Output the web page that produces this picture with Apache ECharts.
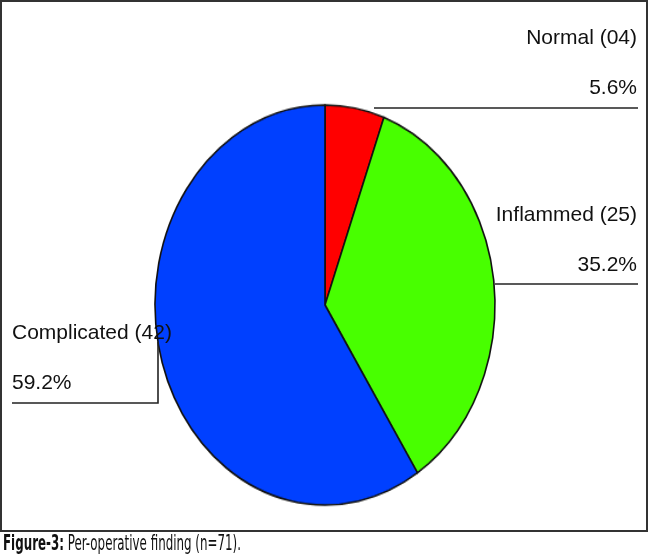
<!DOCTYPE html>
<html>
<head>
<meta charset="utf-8">
<script src="https://cdn.jsdelivr.net/npm/echarts@6/dist/echarts.min.js"></script>
<style>
html,body{margin:0;padding:0;background:#fff;}
#wrap{position:relative;width:650px;height:559px;}
#pie,#main{position:absolute;left:0;top:0;width:650px;height:559px;}
#pie{transform:scaleY(1.1765);transform-origin:325px 305px;}
</style>
</head>
<body>
<div id="wrap"><div id="pie"></div><div id="main"></div></div>
<script>
const categories = ['Normal', 'Inflammed', 'Complicated'];
const counts = [4, 25, 42];
const colors = ['#ff0000', '#48ff00', '#0040ff'];
const captionBold = 'Figure-3:';
const captionText = ' Per-operative finding (n=71).';

const data = categories.map((c, i) => ({ name: c, value: counts[i] }));
const CX = 325, CY = 305, R = 170;
const FONT = "'Liberation Sans', Arial, sans-serif";

const pie = echarts.init(document.getElementById('pie'), null, { renderer: 'canvas' });
pie.setOption({
  animation: false,
  series: [{
    type: 'pie',
    center: [CX, CY],
    radius: R,
    startAngle: 90,
    clockwise: true,
    label: { show: false },
    labelLine: { show: false },
    data: data.map((d, i) => ({ ...d, itemStyle: { color: colors[i] } })),
    itemStyle: { borderColor: '#111', borderWidth: 1.6 },
    emphasis: { disabled: true }
  }]
});

// label placement per category (position, alignment, leader path)
const labelSpots = [
  { x: 637, y: 13, align: 'right', line: [[374, 108], [638, 108]] },
  { x: 637, y: 190, align: 'right', line: [[495, 284], [638, 284]] },
  { x: 12, y: 308, align: 'left', line: [[158, 342], [158, 403], [12, 403]] }
];

const main = echarts.init(document.getElementById('main'), null, { renderer: 'canvas' });
main.setOption({
  animation: false,
  graphic: [
    { type: 'rect', shape: { x: 1, y: 1, width: 646, height: 530 },
      style: { fill: 'none', stroke: '#333', lineWidth: 2 }, silent: true },
    { type: 'text', left: 3, top: 533, scaleX: 0.6, originX: 0,
      style: {
        text: '{b|' + captionBold + '}{r|' + captionText + '}',
        rich: {
          b: { fontFamily: "'Liberation Sans Narrow','DejaVu Sans Condensed',sans-serif", fontWeight: 'bold', fontSize: 22, fill: '#111' },
          r: { fontFamily: "'Liberation Sans Narrow','DejaVu Sans Condensed',sans-serif", fontSize: 22, fill: '#111' }
        }
      } }
  ],
  series: [{
    type: 'pie',
    center: [CX, CY],
    radius: R,
    startAngle: 90,
    clockwise: true,
    silent: true,
    percentPrecision: 1,
    itemStyle: { color: 'rgba(0,0,0,0)' },
    data: data,
    label: {
      show: true,
      overflow: 'none',
      formatter: p => '{n|' + p.name + ' (' + String(p.value).padStart(2, '0') + ')}\n{n|' + p.percent.toFixed(1) + '%}',
      rich: { n: { fontFamily: FONT, fontSize: 21, lineHeight: 50, color: '#111' } }
    },
    labelLine: { show: true, lineStyle: { color: '#222', width: 1.6 } },
    labelLayout: p => {
      const s = labelSpots[p.dataIndex];
      return { x: s.x, y: s.y, align: s.align, verticalAlign: 'top', labelLinePoints: s.line, moveOverlap: null };
    }
  }]
});
</script>
</body>
</html>
